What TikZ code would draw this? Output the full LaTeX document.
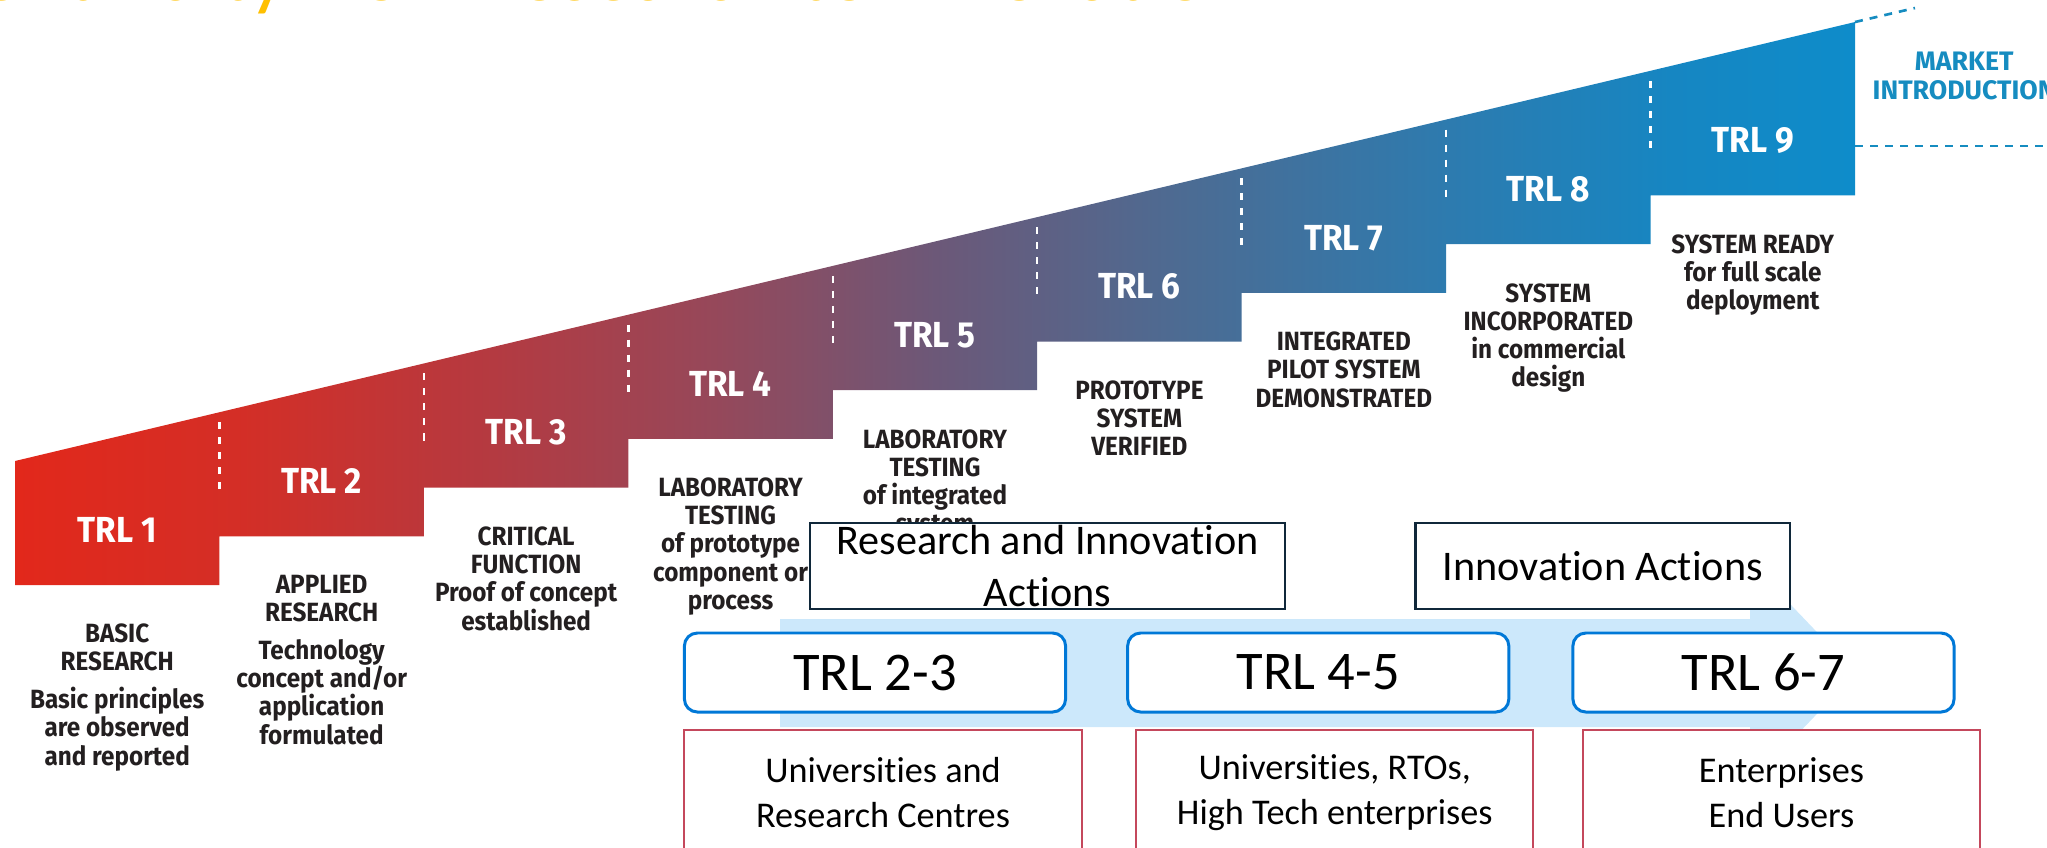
\documentclass[tikz,border=0pt]{standalone}
\usepackage{fontspec}
\setmainfont{Carlito}[Ligatures=CommonOff]
\newfontfamily\stairfont{Fira Sans}[FakeStretch=0.92]
\newfontfamily\marketfont{Fira Sans}
\usetikzlibrary{positioning}

\definecolor{stairA}{RGB}{226,40,27}
\definecolor{stairB}{RGB}{212,46,38}
\definecolor{stairC}{RGB}{180,58,65}
\definecolor{stairD}{RGB}{150,72,90}
\definecolor{stairE}{RGB}{108,88,120}
\definecolor{stairF}{RGB}{75,108,148}
\definecolor{stairG}{RGB}{45,123,175}
\definecolor{stairH}{RGB}{22,134,194}
\definecolor{stairI}{RGB}{14,140,202}
\definecolor{stairtext}{RGB}{35,31,32}
\definecolor{marketblue}{RGB}{22,140,192}
\definecolor{titleyellow}{RGB}{255,192,0}
\definecolor{arrowblue}{RGB}{204,232,251}
\definecolor{boxnavy}{RGB}{16,40,58}
\definecolor{trlboxblue}{RGB}{0,120,215}
\definecolor{orgred}{RGB}{196,72,92}

\pgfdeclarehorizontalshading{stairshade}{100bp}{color(0bp)=(stairA); color(25bp)=(stairA);
  color(31bp)=(stairB); color(38bp)=(stairC); color(44bp)=(stairD); color(50bp)=(stairE);
  color(57bp)=(stairF); color(64bp)=(stairG); color(70bp)=(stairH); color(75bp)=(stairI); color(100bp)=(stairI)}

\tikzset{
  trllabel/.style={text=white, inner sep=0pt, font=\stairfont\bfseries\fontsize{10.3}{12}\selectfont},
  trldesc/.style={text=stairtext, inner sep=0pt, align=center, font=\stairfont\bfseries\fontsize{7.5}{8}\selectfont},
  divider/.style={white, line width=0.7pt, dash pattern=on 0.07cm off 0.08cm},
  marketline/.style={marketblue, line width=0.75pt, dash pattern=on 0.08cm off 0.07cm},
  actionbox/.style={draw=boxnavy, line width=0.7pt, fill=white, inner sep=0pt, align=center, minimum height=0.86cm, font=\fontsize{12}{14.8}\selectfont},
  trlbox/.style={draw=trlboxblue, line width=0.85pt, rounded corners=0.13cm, fill=white, minimum width=3.81cm, minimum height=0.79cm, font=\fontsize{15.5}{18}\selectfont},
  orgbox/.style={draw=orgred, line width=0.6pt, fill=white, align=center, minimum width=3.97cm, minimum height=1.26cm, font=\fontsize{10.3}{12.8}\selectfont}
}

\begin{document}
\begin{tikzpicture}[x=0.01cm,y=-0.01cm]
\useasboundingbox (0,0) rectangle (2047,847);
\clip (0,0) rectangle (2047,847);

% title, cut off at the top
\node[anchor=base east, text=titleyellow, inner sep=0pt, font=\fontsize{23.8}{28}\selectfont] (title) at (1253,0) {Continuity from research to innovation};

% staircase
\shade[shading=stairshade] (15,461) -- (1855,22) -- (1855,195.4) -- (1650.5,195.4) -- (1650.5,244.1)
  -- (1446.1,244.1) -- (1446.1,292.8) -- (1241.6,292.8) -- (1241.6,341.5) -- (1037.2,341.5)
  -- (1037.2,390.2) -- (832.8,390.2) -- (832.8,438.9) -- (628.3,438.9) -- (628.3,487.6)
  -- (423.9,487.6) -- (423.9,536.3) -- (219.4,536.3) -- (219.4,585) -- (15,585) -- cycle;
\foreach \k in {1,...,8}{
  \pgfmathsetmacro\dx{15+204.44*\k}
  \pgfmathsetmacro\dy{461-0.2386*(\dx-15)+10}
  \draw[divider] (\dx,\dy) -- ++(0,73);
}
\foreach \k in {1,...,9}{
  \pgfmathsetmacro\cx{15+204.44*(\k-0.5)}
  \pgfmathsetmacro\by{585-48.7*(\k-1)}
  \node[trllabel] (trl\k) at (\cx,\by-55) {TRL \k};
}

% what each level means
\node[trldesc, below=0.8cm of trl1] (desc1) {BASIC\\RESEARCH\\[2.8pt]Basic principles\\are observed\\and reported};
\node[trldesc, below=0.8cm of trl2] (desc2) {APPLIED\\RESEARCH\\[2.8pt]Technology\\concept and/or\\application\\formulated};
\node[trldesc, below=0.8cm of trl3] (desc3) {CRITICAL\\FUNCTION\\Proof of concept\\established};
\node[trldesc, below=0.8cm of trl4] (desc4) {LABORATORY\\TESTING\\of prototype\\component or\\process};
\node[trldesc, below=0.8cm of trl5] (desc5) {LABORATORY\\TESTING\\of integrated\\system};
\node[trldesc, below=0.8cm of trl6] (desc6) {PROTOTYPE\\SYSTEM\\VERIFIED};
\node[trldesc, below=0.8cm of trl7] (desc7) {INTEGRATED\\PILOT SYSTEM\\DEMONSTRATED};
\node[trldesc, below=0.8cm of trl8] (desc8) {SYSTEM\\INCORPORATED\\in commercial\\design};
\node[trldesc, below=0.8cm of trl9] (desc9) {SYSTEM READY\\for full scale\\deployment};

% market introduction
\draw[marketline] (1855,22) -- (1915,8);
\draw[marketline] (1855,146) -- (2047,146);
\node[anchor=west, align=center, inner sep=0pt, text=marketblue, font=\marketfont\bfseries\fontsize{7.6}{8}\selectfont] (market) at (1872,76) {MARKET\\INTRODUCTION};

% funding actions
\fill[arrowblue] (780,619) -- (1750,619) -- (1750,562) -- (1856,673) -- (1750,784) -- (1750,727) -- (780,727) -- cycle;
\node[actionbox, minimum width=4.75cm] (ria) at (1047.5,566) {Research and Innovation\\Actions};
\node[actionbox, minimum width=3.74cm, right=1.28cm of ria] (ia) {Innovation Actions};

\node[trlbox] (trl23) at (875,672.5) {TRL 2-3};
\node[trlbox, right=0.59cm of trl23] (trl45) {TRL 4-5};
\node[trlbox, right=0.61cm of trl45] (trl67) {TRL 6-7};

\node[orgbox, below=0.15cm of trl23, xshift=0.08cm] (org23) {Universities and\\Research Centres};
\node[orgbox, below=0.15cm of trl45, xshift=0.165cm] (org45) {Universities, RTOs,\\High Tech enterprises};
\node[orgbox, below=0.15cm of trl67, xshift=0.18cm] (org67) {Enterprises\\End Users};
\end{tikzpicture}
\end{document}
